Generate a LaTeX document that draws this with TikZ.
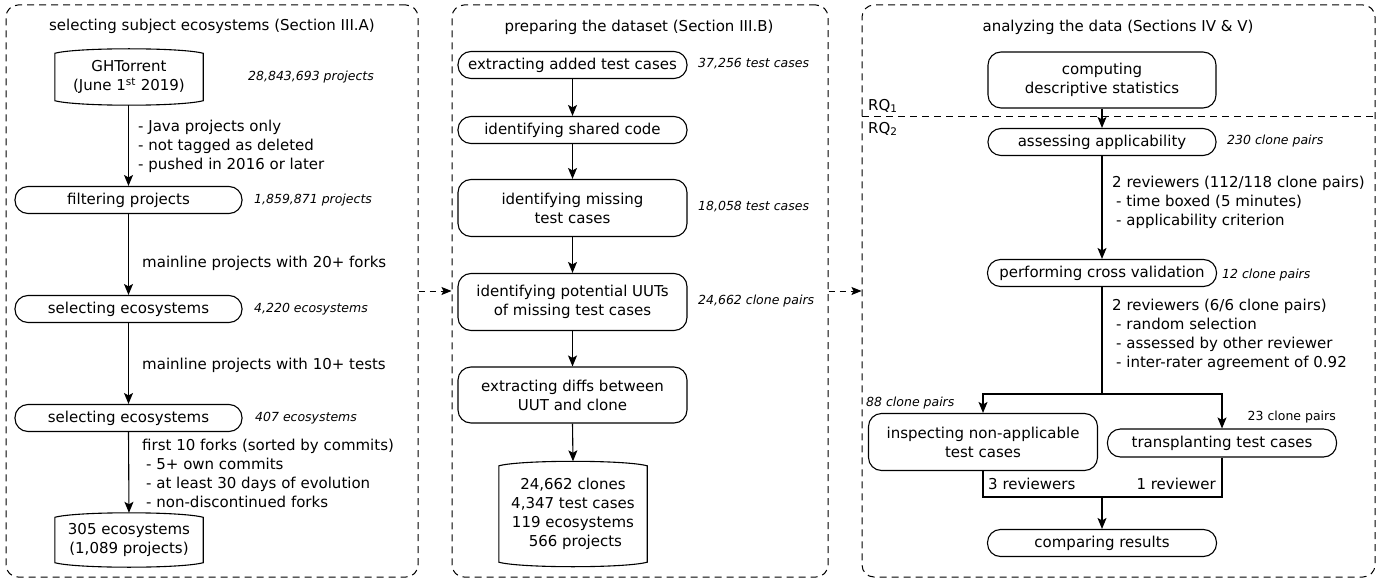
\documentclass[tikz,border=0pt]{standalone}
\usepackage{fontspec}
\setmainfont{DejaVu Sans}
\usetikzlibrary{arrows.meta,calc}
\newcommand\barrelpath[1]{%
  \draw[bline] (#1.north west)
    .. controls ([yshift=6pt]$(#1.north west)!0.15!(#1.north east)$) and ([yshift=6pt]$(#1.north west)!0.85!(#1.north east)$) .. (#1.north east)
    -- (#1.south east)
    .. controls ([yshift=-6pt]$(#1.south west)!0.85!(#1.south east)$) and ([yshift=-6pt]$(#1.south west)!0.15!(#1.south east)$) .. (#1.south west)
    -- cycle;}
\begin{document}
\begin{tikzpicture}[x=1pt,y=-1pt,
  every node/.style={font=\fontsize{15}{19}\selectfont, inner sep=0pt},
  panel/.style={draw, dash pattern=on 7pt off 5pt, rounded corners=12pt, line width=1pt},
  bline/.style={line width=1.1pt},
  stepbox/.style={draw, rounded corners=13pt, line width=1.1pt, minimum width=229pt, minimum height=27pt, align=center},
  twobox/.style={stepbox, minimum height=57pt},
  barrel/.style={minimum width=148pt, align=center},
  note/.style={font=\fontsize{12.5}{15}\selectfont\itshape, anchor=west},
  small/.style={font=\fontsize{12.5}{15}\selectfont},
  lbl/.style={anchor=west, align=left},
  arr/.style={-{Stealth[length=11pt,width=9pt,inset=2.5pt]}, line width=1.1pt},
  dasharr/.style={-{Stealth[length=10pt,width=8pt,inset=2pt]}, line width=1pt, dash pattern=on 6pt off 5pt},
]
\useasboundingbox (0,0) rectangle (1391,580);

% panels
\node[panel, minimum width=412pt, minimum height=572pt] (p1) at (212,291) {};
\node[panel, minimum width=376pt, minimum height=572pt] (p2) at (640,291) {};
\node[panel, minimum width=513pt, minimum height=572pt] (p3) at (1118.5,291) {};

\node (t1) at (212,26) {selecting subject ecosystems (Section III.A)};
\node (t2) at (639,27) {preparing the dataset (Section III.B)};
\node (t3) at (1118,27) {analyzing the data (Sections IV \& V)};

% ---------- left panel
\node[barrel, minimum height=47pt] (ght) at (129,77) {GHTorrent\\(June 1\textsuperscript{st} 2019)};
\barrelpath{ght}
\node[note] (n1) at (248,77) {28,843,693 projects};
\node[lbl] (c1) at (138,146) {- Java projects only\\- not tagged as deleted\\- pushed in 2016 or later};

\node[stepbox, minimum width=227pt] (fp) at (128.5,200) {filtering projects};
\node[note] (n2) at (254,200) {1,859,871 projects};
\node[lbl] (c2) at (142,263) {mainline projects with 20+ forks};

\node[stepbox, minimum width=227pt] (se1) at (128.5,309) {selecting ecosystems};
\node[note] (n3) at (254,309) {4,220 ecosystems};
\node[lbl] (c3) at (142,365) {mainline projects with 10+ tests};

\node[stepbox, minimum width=227pt] (se2) at (128.5,418) {selecting ecosystems};
\node[note] (n4) at (255,418) {407 ecosystems};
\node[lbl] (c4) at (142,473) {first 10 forks (sorted by commits)\\\hspace*{4pt}- 5+ own commits\\\hspace*{4pt}- at least 30 days of evolution\\\hspace*{4pt}- non-discontinued forks};

\node[barrel, minimum height=45pt] (eco) at (129,540) {305 ecosystems\\(1,089 projects)};
\barrelpath{eco}

\draw[arr] ([yshift=-4.5pt]ght.south -| fp.north) -- (fp.north);
\draw[arr] (fp) -- (se1);
\draw[arr] (se1) -- (se2);
\draw[arr] (se2.south) -- ([yshift=4.5pt]eco.north);

% ---------- middle panel
\node[stepbox] (m1) at (572.5,65) {extracting added test cases};
\node[note] (n5) at (698,64) {37,256 test cases};
\node[stepbox] (m2) at (572.5,130) {identifying shared code};
\node[twobox] (m3) at (572.5,208) {identifying missing\\test cases};
\node[note] (n6) at (698,207) {18,058 test cases};
\node[twobox] (m4) at (572.5,302) {identifying potential UUTs\\of missing test cases};
\node[note] (n7) at (698,301) {24,662 clone pairs};
\node[twobox, minimum height=56pt] (m5) at (572.5,395) {extracting diffs between\\UUT and clone};
\node[barrel, minimum height=96pt] (cyl) at (573,514) {24,662 clones\\4,347 test cases\\119 ecosystems\\\ 566 projects};
\barrelpath{cyl}

\draw[arr] (m1) -- (m2);
\draw[arr] (m2) -- (m3);
\draw[arr] (m3) -- (m4);
\draw[arr] (m4) -- (m5);
\draw[arr] (m5.south) -- ([yshift=4.5pt]cyl.north);

% inter-panel
\draw[dasharr] (p1.east) -- (p2.west);
\draw[dasharr] (p2.east) -- (p3.west);

% ---------- right panel
\node[twobox, minimum width=228pt, minimum height=56pt] (r1) at (1102,80) {computing\\descriptive statistics};
\coordinate (rqL) at (862,117);
\coordinate (rqR) at (1375,117);
\draw[dash pattern=on 7pt off 5pt, line width=1pt] (rqL) -- (rqR);
\node[lbl] (rq1) at (868,106) {RQ\textsubscript{1}};
\node[lbl] (rq2) at (868,129) {RQ\textsubscript{2}};

\node[stepbox, minimum width=228pt] (r2) at (1102,142) {assessing applicability};
\node[note] (n8) at (1227,141) {230 clone pairs};
\node[lbl] (c5) at (1112,202) {2 reviewers (112/118 clone pairs)\\\hspace*{4pt}- time boxed (5 minutes)\\\hspace*{4pt}- applicability criterion};

\node[stepbox] (r3) at (1102,273) {performing cross validation};
\node[note] (n9) at (1222,275) {12 clone pairs};
\node[lbl] (c6) at (1112,335) {2 reviewers (6/6 clone pairs)\\\hspace*{4pt}- random selection\\\hspace*{4pt}- assessed by other reviewer\\\hspace*{4pt}- inter-rater agreement of 0.92};

\coordinate (split) at (1102,394);
\node[twobox] (r4) at (983,442) {inspecting non-applicable\\test cases};
\node[note] (n10) at (866,403) {88 clone pairs};
\node[stepbox, minimum height=28pt] (r5) at (1222,443) {transplanting test cases};
\node[small, anchor=east] (n11) at (1336,417) {23 clone pairs};

\coordinate (merge) at (1102,497);
\node[anchor=west] (c7) at (988,484) {3 reviewers};
\node[anchor=east] (c8) at (1216,484) {1 reviewer};
\node[stepbox] (r6) at (1102,543) {comparing results};

\draw[arr] (r1) -- (r2);
\draw[arr] (r2) -- (r3);
\draw[bline] (r3.south) -- (split);
\draw[arr] (split) -| (r4.north);
\draw[arr] (split) -| (r5.north);
\draw[bline] (r4.south) |- (merge);
\draw[bline] (r5.south) |- (merge);
\draw[arr] (merge) -- (r6.north);
\end{tikzpicture}
\end{document}
